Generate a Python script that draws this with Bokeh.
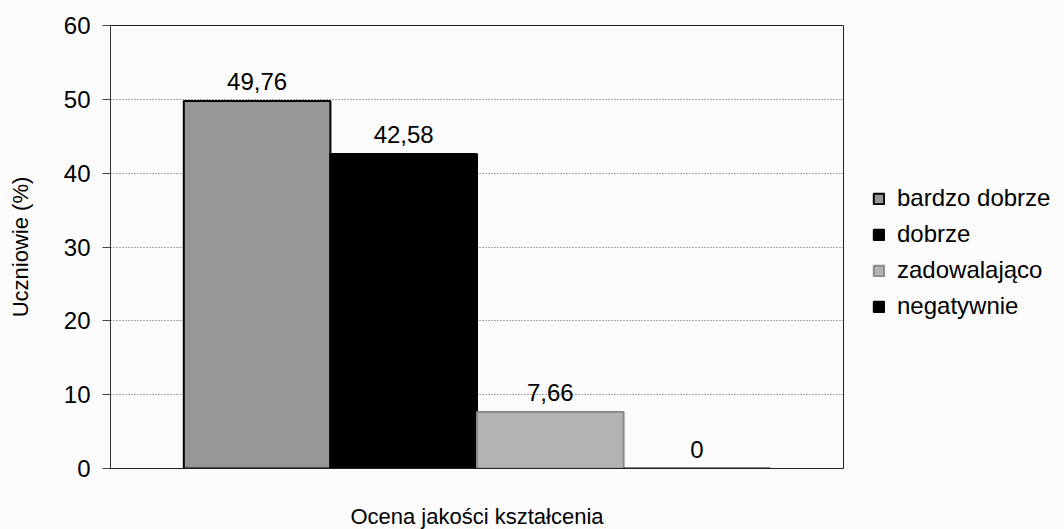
from bokeh.plotting import figure
from bokeh.models import (ColumnDataSource, LabelSet, Legend, LegendItem,
                          Range1d, FixedTicker)
from bokeh.core.properties import value
from bokeh.embed import file_html
from bokeh.resources import INLINE

# ---- data ----
categories = ["bardzo dobrze", "dobrze", "zadowalająco", "negatywnie"]
values = [49.76, 42.58, 7.66, 0]
y_ticks = [0, 10, 20, 30, 40, 50, 60]
x_title = "Ocena jakości kształcenia"
y_title = "Uczniowie (%)"

# ---- styles ----
fills = ["#969696", "#000000", "#b3b3b3", "#000000"]
lines = ["#000000", "#000000", "#8a8a8a", "#000000"]
FONT = "Liberation Sans"

src = ColumnDataSource(dict(
    x=list(range(len(categories))),
    top=values,
    cat=categories,
    fill=fills,
    line=lines,
    label=[f"{v:g}".replace(".", ",") for v in values],
))

p = figure(frame_width=733, frame_height=443,
           x_range=Range1d(-1, len(categories)), y_range=Range1d(0, 60),
           output_backend="svg", toolbar_location=None,
           min_border_left=110, min_border_top=25,
           min_border_bottom=60, min_border_right=219)

p.background_fill_color = "#fbfbfb"
p.border_fill_color = "#fbfbfb"
p.outline_line_color = "#222222"
p.outline_line_width = 1

r = p.vbar(x="x", top="top", width=1.0, bottom=0, source=src,
           fill_color="fill", line_color="line", line_width=2)

labels = LabelSet(x="x", y="top", text="label", source=src, y_offset=11,
                  text_align="center", text_baseline="alphabetic",
                  text_font=value(FONT), text_font_size=value("24px"),
                  text_color="#000000")
p.add_layout(labels)

# y axis
p.yaxis.ticker = FixedTicker(ticks=y_ticks)
p.yaxis.major_label_text_font = FONT
p.yaxis.major_label_text_font_size = "24px"
p.yaxis.major_label_text_color = "#000000"
p.yaxis.major_label_standoff = 12
p.yaxis.major_tick_out = 8
p.yaxis.major_tick_in = 0
p.yaxis.minor_tick_line_color = None
p.yaxis.major_tick_line_color = "#444444"
p.yaxis.axis_line_color = "#333333"
p.yaxis.axis_label = y_title
p.yaxis.axis_label_text_font = FONT
p.yaxis.axis_label_text_font_size = "22px"
p.yaxis.axis_label_text_font_style = "normal"
p.yaxis.axis_label_text_color = "#000000"
p.yaxis.axis_label_standoff = 28

# x axis
p.xaxis.ticker = FixedTicker(ticks=[])
p.xaxis.minor_tick_line_color = None
p.xaxis.major_tick_line_color = None
p.xaxis.axis_line_color = "#222222"
p.xaxis.axis_label = x_title
p.xaxis.axis_label_text_font = FONT
p.xaxis.axis_label_text_font_size = "22px"
p.xaxis.axis_label_text_font_style = "normal"
p.xaxis.axis_label_text_color = "#000000"
p.xaxis.axis_label_standoff = 35

# grid
p.xgrid.visible = False
p.ygrid.ticker = FixedTicker(ticks=y_ticks)
p.ygrid.grid_line_color = "#555555"
p.ygrid.grid_line_dash = "1 2"
p.ygrid.grid_line_width = 1

# legend
items = [LegendItem(label=c, renderers=[r], index=i) for i, c in enumerate(categories)]
legend = Legend(items=items, location=(29, 148),
                label_text_font=FONT, label_text_font_size="24px",
                label_text_color="#000000",
                glyph_width=13, glyph_height=13, label_standoff=12,
                label_height=28, spacing=8, padding=4, margin=0,
                border_line_color=None, background_fill_alpha=0)
p.add_layout(legend, "right")

open("out.html", "w").write(file_html(p, INLINE))
